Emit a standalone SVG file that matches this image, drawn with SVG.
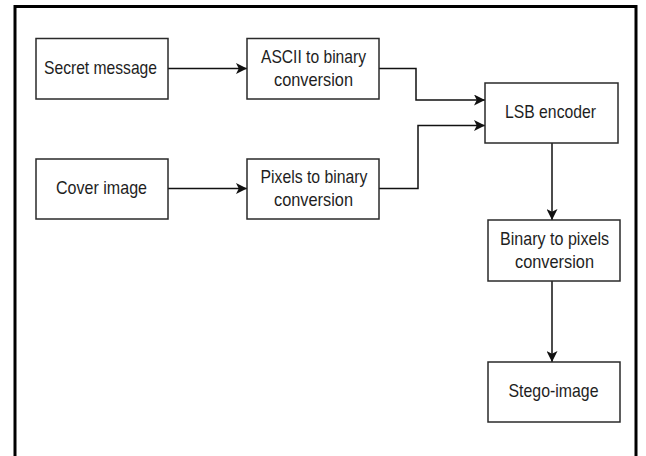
<svg xmlns="http://www.w3.org/2000/svg" width="646" height="456" viewBox="0 0 646 456">
  <style>
    .box { fill: #ffffff; stroke: #2a2a2a; stroke-width: 1.5; }
    .lbl { font-family: "Liberation Sans", Arial, sans-serif; font-size: 18.5px; fill: #1e1e1e; text-anchor: middle; }
    .wire { fill: none; stroke: #111111; stroke-width: 1.5; }
  </style>
  <defs>
    <marker id="arrow" viewBox="0 0 10 10" refX="10" refY="5" markerWidth="11" markerHeight="11" markerUnits="userSpaceOnUse" orient="auto">
      <path d="M0,0 L10,5 L0,10 L2.5,5 Z" fill="#111111"/>
    </marker>
  </defs>

  <rect x="0" y="0" width="646" height="456" fill="#ffffff"/>
  <!-- outer frame, open at the bottom edge -->
  <path d="M15,460 L15,6.5 L636,6.5 L636,460" fill="none" stroke="#000000" stroke-width="3"/>

  <g id="connectors">
    <path class="wire" d="M168,68.5 L247,68.5" marker-end="url(#arrow)"/>
    <path class="wire" d="M168,188.5 L247,188.5" marker-end="url(#arrow)"/>
    <path class="wire" d="M379,68.5 L416,68.5 L416,100 L485,100" marker-end="url(#arrow)"/>
    <path class="wire" d="M379,188.5 L418,188.5 L418,125.5 L485,125.5" marker-end="url(#arrow)"/>
    <path class="wire" d="M552,143 L552,220" marker-end="url(#arrow)"/>
    <path class="wire" d="M552,281 L552,362" marker-end="url(#arrow)"/>
  </g>

  <g id="secret-message">
    <rect class="box" x="36" y="38.5" width="132" height="60.5"/>
    <text class="lbl" x="100.5" y="74" textLength="113" lengthAdjust="spacingAndGlyphs">Secret message</text>
  </g>

  <g id="cover-image">
    <rect class="box" x="36" y="159" width="132" height="60"/>
    <text class="lbl" x="101.5" y="194" textLength="91" lengthAdjust="spacingAndGlyphs">Cover image</text>
  </g>

  <g id="ascii-to-binary">
    <rect class="box" x="247" y="38.5" width="132" height="60.5"/>
    <text class="lbl" x="313.5" y="63" textLength="105" lengthAdjust="spacingAndGlyphs">ASCII to binary</text>
    <text class="lbl" x="313.5" y="85.5" textLength="79" lengthAdjust="spacingAndGlyphs">conversion</text>
  </g>

  <g id="pixels-to-binary">
    <rect class="box" x="247" y="159" width="132" height="60"/>
    <text class="lbl" x="314" y="183" textLength="107" lengthAdjust="spacingAndGlyphs">Pixels to binary</text>
    <text class="lbl" x="313.5" y="205.5" textLength="79" lengthAdjust="spacingAndGlyphs">conversion</text>
  </g>

  <g id="lsb-encoder">
    <rect class="box" x="485" y="83" width="133" height="60"/>
    <text class="lbl" x="550.5" y="117.5" textLength="91" lengthAdjust="spacingAndGlyphs">LSB encoder</text>
  </g>

  <g id="binary-to-pixels">
    <rect class="box" x="488" y="220" width="132" height="61"/>
    <text class="lbl" x="554.5" y="245" textLength="109" lengthAdjust="spacingAndGlyphs">Binary to pixels</text>
    <text class="lbl" x="554.5" y="267.5" textLength="79" lengthAdjust="spacingAndGlyphs">conversion</text>
  </g>

  <g id="stego-image">
    <rect class="box" x="488" y="362" width="132" height="60"/>
    <text class="lbl" x="553.5" y="396.5" textLength="90" lengthAdjust="spacingAndGlyphs">Stego-image</text>
  </g>
</svg>
